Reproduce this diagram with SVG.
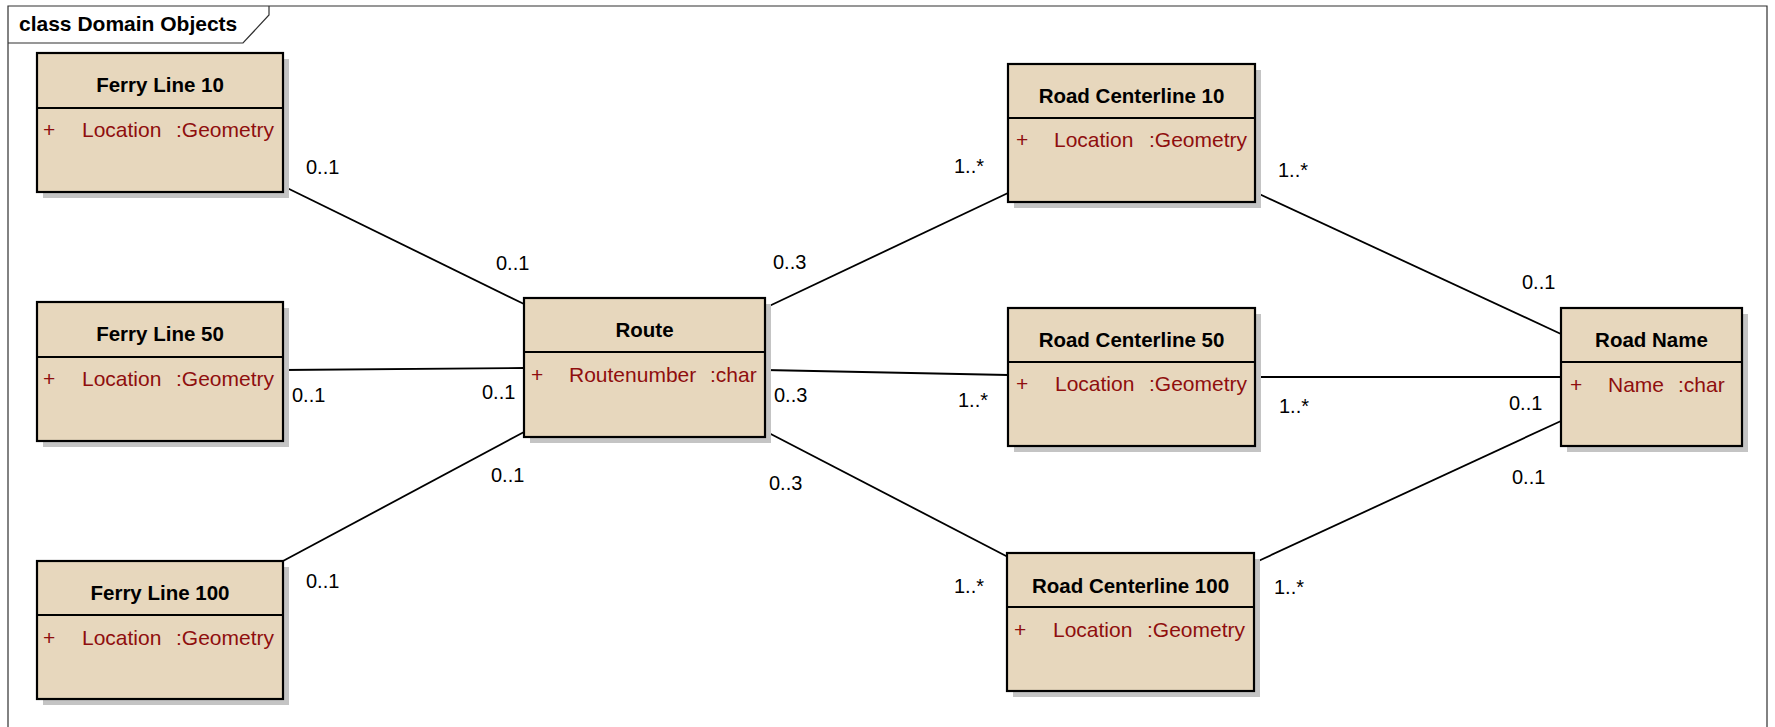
<svg xmlns="http://www.w3.org/2000/svg" width="1775" height="727" viewBox="0 0 1775 727">
<style>
.frame{fill:none;stroke:#303030;stroke-width:1.2}
.shadow{fill:#c4c4c4}
.box{fill:#e7d7bd;stroke:#000;stroke-width:2.2}
.div{stroke:#000;stroke-width:1.8}
.title{font-family:"Liberation Sans",Arial,sans-serif;font-weight:bold;font-size:20.5px;fill:#000;text-anchor:middle}
.attr{font-family:"Liberation Sans",Arial,sans-serif;font-size:21px;fill:#8f0e0e}
.mult{font-family:"Liberation Sans",Arial,sans-serif;font-size:20px;fill:#000}
.conn line{stroke:#000;stroke-width:1.8}
.ftitle{font-family:"Liberation Sans",Arial,sans-serif;font-weight:bold;font-size:21px;fill:#000}
</style>
<rect width="1775" height="727" fill="#fff"/>
<g id="frame">
<path class="frame" d="M8,740 V6 H1767 V740"/>
<path class="frame" d="M8,43 H243 L269,15 V6"/>
<text class="ftitle" x="19" y="31">class Domain Objects</text>
</g>
<g id="connectors" class="conn">
<line x1="283" y1="186" x2="524" y2="304"/>
<line x1="283" y1="370" x2="524" y2="368"/>
<line x1="283" y1="561" x2="524" y2="432"/>
<line x1="765" y1="308" x2="1008" y2="193"/>
<line x1="765" y1="370" x2="1008" y2="375"/>
<line x1="765" y1="431" x2="1008" y2="557"/>
<line x1="1255" y1="192" x2="1561" y2="334"/>
<line x1="1255" y1="377" x2="1561" y2="377"/>
<line x1="1254" y1="563" x2="1561" y2="421"/>
</g>
<g id="labels">
<text class="mult" x="306" y="174">0..1</text>
<text class="mult" x="496" y="270">0..1</text>
<text class="mult" x="292" y="402">0..1</text>
<text class="mult" x="482" y="399">0..1</text>
<text class="mult" x="491" y="482">0..1</text>
<text class="mult" x="306" y="588">0..1</text>
<text class="mult" x="773" y="269">0..3</text>
<text class="mult" x="774" y="402">0..3</text>
<text class="mult" x="769" y="490">0..3</text>
<text class="mult" x="954" y="173">1..*</text>
<text class="mult" x="958" y="407">1..*</text>
<text class="mult" x="954" y="593">1..*</text>
<text class="mult" x="1278" y="177">1..*</text>
<text class="mult" x="1279" y="413">1..*</text>
<text class="mult" x="1274" y="594">1..*</text>
<text class="mult" x="1522" y="289">0..1</text>
<text class="mult" x="1509" y="410">0..1</text>
<text class="mult" x="1512" y="484">0..1</text>
</g>
<g id="ferry10">
<rect class="shadow" x="43" y="59" width="246" height="139"/>
<rect class="box" x="37" y="53" width="246" height="139"/>
<line class="div" x1="37" y1="108" x2="283" y2="108"/>
<text class="title" x="160" y="92">Ferry Line 10</text>
<text class="attr" x="43" y="137">+</text>
<text class="attr" x="82" y="137">Location</text>
<text class="attr" x="176" y="137">:Geometry</text>
</g>
<g id="ferry50">
<rect class="shadow" x="43" y="308" width="246" height="139"/>
<rect class="box" x="37" y="302" width="246" height="139"/>
<line class="div" x1="37" y1="357" x2="283" y2="357"/>
<text class="title" x="160" y="341">Ferry Line 50</text>
<text class="attr" x="43" y="386">+</text>
<text class="attr" x="82" y="386">Location</text>
<text class="attr" x="176" y="386">:Geometry</text>
</g>
<g id="ferry100">
<rect class="shadow" x="43" y="567" width="246" height="138"/>
<rect class="box" x="37" y="561" width="246" height="138"/>
<line class="div" x1="37" y1="615" x2="283" y2="615"/>
<text class="title" x="160" y="600">Ferry Line 100</text>
<text class="attr" x="43" y="645">+</text>
<text class="attr" x="82" y="645">Location</text>
<text class="attr" x="176" y="645">:Geometry</text>
</g>
<g id="route">
<rect class="shadow" x="530" y="304" width="241" height="139"/>
<rect class="box" x="524" y="298" width="241" height="139"/>
<line class="div" x1="524" y1="352" x2="765" y2="352"/>
<text class="title" x="644.5" y="337">Route</text>
<text class="attr" x="531" y="382">+</text>
<text class="attr" x="569" y="382">Routenumber</text>
<text class="attr" x="710" y="382">:char</text>
</g>
<g id="rc10">
<rect class="shadow" x="1014" y="70" width="247" height="138"/>
<rect class="box" x="1008" y="64" width="247" height="138"/>
<line class="div" x1="1008" y1="118" x2="1255" y2="118"/>
<text class="title" x="1131.5" y="103">Road Centerline 10</text>
<text class="attr" x="1016" y="147">+</text>
<text class="attr" x="1054" y="147">Location</text>
<text class="attr" x="1149" y="147">:Geometry</text>
</g>
<g id="rc50">
<rect class="shadow" x="1014" y="314" width="247" height="138"/>
<rect class="box" x="1008" y="308" width="247" height="138"/>
<line class="div" x1="1008" y1="362" x2="1255" y2="362"/>
<text class="title" x="1131.5" y="347">Road Centerline 50</text>
<text class="attr" x="1016" y="391">+</text>
<text class="attr" x="1055" y="391">Location</text>
<text class="attr" x="1149" y="391">:Geometry</text>
</g>
<g id="rc100">
<rect class="shadow" x="1013" y="559" width="247" height="138"/>
<rect class="box" x="1007" y="553" width="247" height="138"/>
<line class="div" x1="1007" y1="607" x2="1254" y2="607"/>
<text class="title" x="1130.5" y="593">Road Centerline 100</text>
<text class="attr" x="1014" y="637">+</text>
<text class="attr" x="1053" y="637">Location</text>
<text class="attr" x="1147" y="637">:Geometry</text>
</g>
<g id="roadname">
<rect class="shadow" x="1567" y="314" width="181" height="138"/>
<rect class="box" x="1561" y="308" width="181" height="138"/>
<line class="div" x1="1561" y1="362" x2="1742" y2="362"/>
<text class="title" x="1651.5" y="347">Road Name</text>
<text class="attr" x="1570" y="392">+</text>
<text class="attr" x="1608" y="392">Name</text>
<text class="attr" x="1678" y="392">:char</text>
</g>
</svg>
